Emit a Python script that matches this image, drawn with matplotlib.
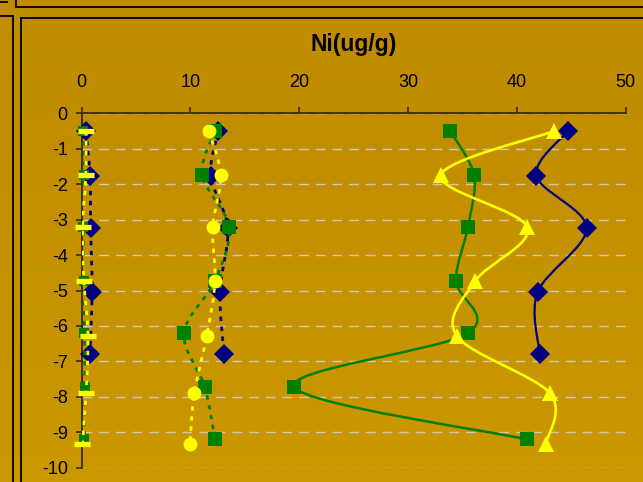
import numpy as np
import matplotlib
matplotlib.use("Agg")
import matplotlib.pyplot as plt
from matplotlib.path import Path
from matplotlib.patches import PathPatch
from matplotlib.lines import Line2D

plt.rcParams['font.family'] = ['Liberation Sans', 'DejaVu Sans']
plt.rcParams['axes.unicode_minus'] = False

# ---------------- data ----------------
title = "Ni(ug/g)"
x_ticks = [0, 10, 20, 30, 40, 50]
y_ticks = [0, -1, -2, -3, -4, -5, -6, -7, -8, -9, -10]

depth_navy = [-0.5, -1.76, -3.24, -5.05, -6.8]
depth_green = [-0.5, -1.75, -3.2, -4.72, -6.2, -7.72, -9.2]
depth_yellow = [-0.5, -1.75, -3.22, -4.74, -6.28, -7.9, -9.33]

navy_high = [44.7, 41.8, 46.4, 41.9, 42.1]
navy_mid = [12.56, 11.86, 13.42, 12.71, 13.08]
navy_low = [0.4, 0.76, 0.83, 0.95, 0.76]

green_high = [33.85, 36.06, 35.5, 34.4, 35.5, 19.54, 40.9]
green_mid = [12.25, 11.08, 13.54, 12.25, 9.4, 11.3, 12.25]
green_low = [0.15, 0.2, 0.15, 0.2, 0.25, 0.3, 0.25]

yellow_high = [43.44, 33.0, 40.96, 36.15, 34.47, 43.04, 42.67]
yellow_mid = [11.67, 12.78, 12.04, 12.25, 11.49, 10.35, 9.95]
yellow_low = [0.4, 0.37, 0.09, 0.21, 0.58, 0.4, 0.06]

NAVY = '#000080'
GREEN = '#008000'
YELLOW = '#FFFF00'

W, H = 643, 482
fig = plt.figure(figsize=(W / 100, H / 100), dpi=100)

# background gradient
bg = fig.add_axes([0, 0, 1, 1], zorder=-10)
grad = np.linspace(0, 1, 256).reshape(-1, 1)
c_top = np.array([0.75, 0.545, 0.0])
c_bot = np.array([0.795, 0.595, 0.0])
img = c_top[None, None, :] * (1 - grad[:, :, None]) + c_bot[None, None, :] * grad[:, :, None]
bg.imshow(img, aspect='auto', extent=[0, 1, 0, 1], origin='upper')
bg.set_axis_off()

# frame lines (pixel coordinates)
def fline(xs, ys, lw=1.3):
    fig.add_artist(Line2D([x / W for x in xs], [1 - y / H for y in ys],
                          color='black', lw=lw, transform=fig.transFigure))

fline([0, 7], [2, 2])
fline([16, 16], [0, 7])
fline([16, W], [7, 7])
fline([0, 13], [16, 16])
fline([13, 13], [16, H])
fline([21, W], [18, 18])
fline([21, 21], [18, H])

# main axes
x0, x1 = 81.7, 625.7
y0, y1 = 113.3, 467.7
ax = fig.add_axes([x0 / W, 1 - y1 / H, (x1 - x0) / W, (y1 - y0) / H])
ax.patch.set_alpha(0)
ax.set_xlim(0, 50)
ax.set_ylim(-10, 0)
ax.xaxis.tick_top()
ax.set_xticks(x_ticks)
ax.set_yticks(y_ticks)
ax.set_xticklabels([str(v) for v in x_ticks])
ax.set_yticklabels([str(v) for v in y_ticks])
for s in ['right', 'bottom']:
    ax.spines[s].set_visible(False)
for s in ['left', 'top']:
    ax.spines[s].set_color('#3a2800')
    ax.spines[s].set_linewidth(1.3)
ax.tick_params(axis='x', direction='out', length=4, width=1.2, color='#3a2800',
               pad=12, labelsize=13, labelcolor='black')
ax.tick_params(axis='y', direction='out', length=4, width=1.2, color='#3a2800',
               pad=6, labelsize=13, labelcolor='black')
ax.yaxis.grid(True, color='#cfc8b8', lw=1.0, linestyle=(0, (7, 5)))
ax.set_axisbelow(True)

fig.text(354 / W, 1 - 51 / H, title, ha='center', va='baseline',
         fontsize=16.5, fontweight='bold', color='black')


def smooth_path(xs, ys):
    P = np.column_stack([xs, ys]).astype(float)
    n = len(P)
    verts = [P[0]]
    codes = [Path.MOVETO]
    for i in range(n - 1):
        pm = P[i - 1] if i > 0 else P[i]
        pp = P[i + 2] if i + 2 < n else P[i + 1]
        c1 = P[i] + (P[i + 1] - pm) / 6.0
        c2 = P[i + 1] - (pp - P[i]) / 6.0
        verts += [c1, c2, P[i + 1]]
        codes += [Path.CURVE4] * 3
    return Path(np.array(verts), codes)


def series(xs, ys, color, ls, lw, marker, ms, z, mew=0.0):
    patch = PathPatch(smooth_path(xs, ys), facecolor='none', edgecolor=color,
                      lw=lw, linestyle=ls, zorder=z, capstyle='butt')
    ax.add_patch(patch)
    ax.plot(xs, ys, linestyle='none', marker=marker, ms=ms, color=color,
            mec=color, mew=mew, zorder=z + 0.5, clip_on=False)


dot = (0, (1.6, 2.0))
# near zero cluster
series(navy_low, depth_navy, NAVY, dot, 2.0, 'D', 10.0, 3)
series(green_low, depth_green, GREEN, dot, 2.0, 's', 6.5, 4)
series(yellow_low, depth_yellow, YELLOW, dot, 2.0, '_', 11.0, 5, mew=3.8)
# mid cluster
series(navy_mid, depth_navy, NAVY, dot, 2.0, 'D', 10.0, 3)
series(green_mid, depth_green, GREEN, dot, 2.0, 's', 9.5, 4)
series(yellow_mid, depth_yellow, YELLOW, dot, 2.0, 'o', 10.0, 5)
# high cluster
series(navy_high, depth_navy, NAVY, '-', 1.6, 'D', 10.0, 3)
series(green_high, depth_green, GREEN, '-', 1.8, 's', 9.5, 4)
series(yellow_high, depth_yellow, YELLOW, '-', 1.9, '^', 11.0, 5)

fig.savefig('out.png', dpi=100)
